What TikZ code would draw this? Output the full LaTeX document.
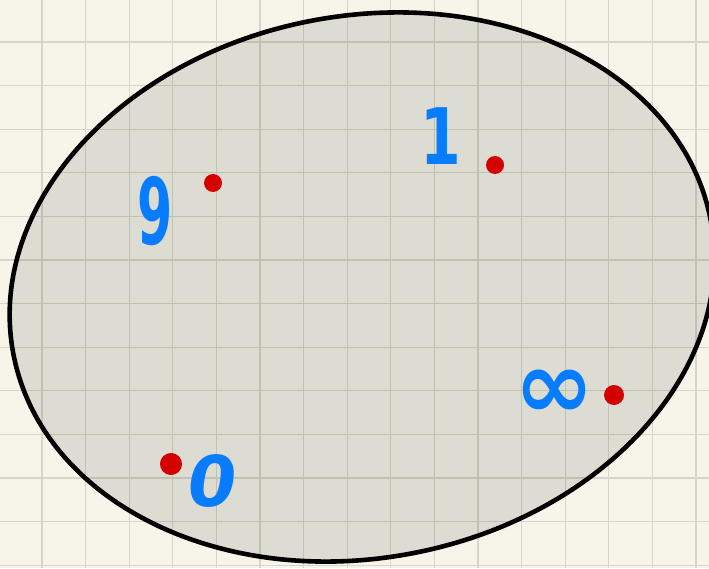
\documentclass[tikz,border=0pt]{standalone}
\usepackage{fontspec}
\newfontfamily\handfont{DejaVu Sans}[BoldFont={DejaVu Sans Bold}]
\definecolor{paper}{RGB}{247,245,234}
\definecolor{gridc}{RGB}{216,214,201}
\definecolor{dotred}{RGB}{212,0,0}
\definecolor{inkblue}{RGB}{8,124,255}
\tikzset{
  gridline/.style={draw=gridc, line width=1.1pt},
  region/.style={draw=black, line width=4.6pt, fill=black, fill opacity=0.1},
  pointdot/.style={circle, fill=dotred, inner sep=0pt, minimum size=18pt},
  numlabel/.style={text=inkblue, inner sep=0pt, font=\handfont\bfseries}
}
\begin{document}
\begin{tikzpicture}[x=1pt,y=1pt]
\useasboundingbox (0,0) rectangle (709,568);
\fill[paper] (0,0) rectangle (709,568);
\foreach \i in {0,...,15} \draw[gridline] (42+43.6*\i,0) -- ++(0,568);
\foreach \i in {0,...,12} \draw[gridline] (0,526-43.6*\i) -- ++(709,0);
\draw[region, rotate around={11:(362,281)}] (362,281) ellipse [x radius=355, y radius=271];
% points
\node[pointdot] (p9) at (213,385) {};
\node[pointdot] (p1) at (495,403) {};
\node[pointdot, minimum width=17pt, minimum height=20pt, rotate=25] (pinf) at (614,173) {};
\node[pointdot, minimum width=18pt, minimum height=22pt, rotate=20] (p0) at (171,104) {};
% labels
\node[numlabel, font=\handfont\bfseries\fontsize{92}{92}\selectfont, xscale=0.55] (l9) at (155,357) {9};
\node[numlabel, font=\handfont\bfseries\fontsize{78}{78}\selectfont, xscale=0.75] (l1) at (441,432) {1};
\node[numlabel, font=\handfont\bfseries\fontsize{70}{70}\selectfont, xslant=0.15] (l0) at (213,87) {0};
\node[numlabel, font=\handfont\bfseries\fontsize{96}{96}\selectfont] (linf) at (554,174) {∞};
\end{tikzpicture}
\end{document}
